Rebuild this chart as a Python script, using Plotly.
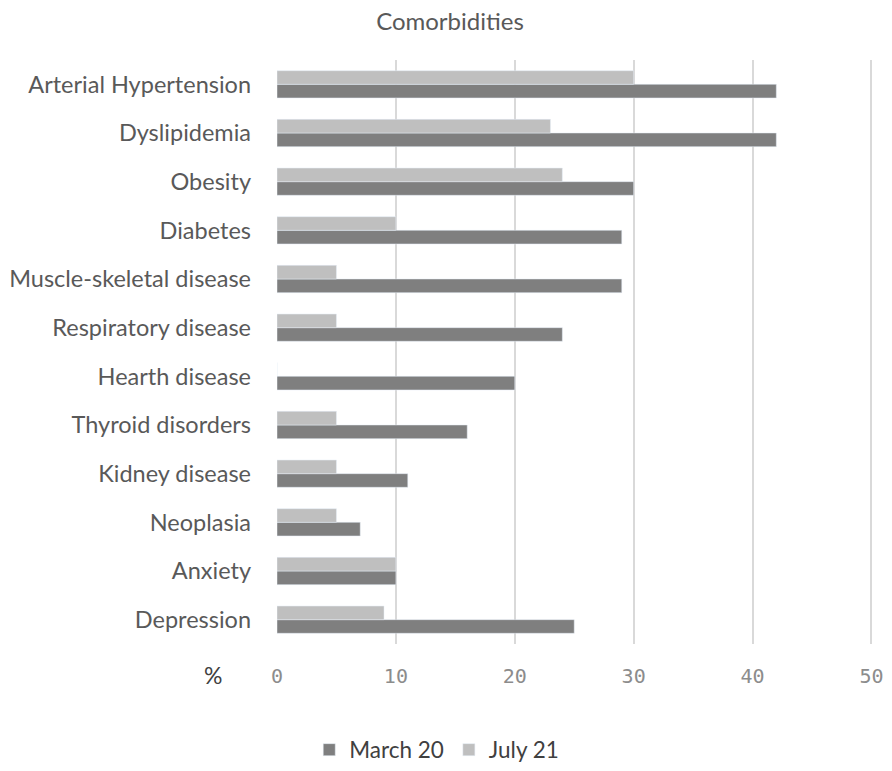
import plotly.graph_objects as go

# categories listed bottom-to-top so the first trace sits lower in each group
categories = ["Depression", "Anxiety", "Neoplasia", "Kidney disease", "Thyroid disorders",
              "Hearth disease", "Respiratory disease", "Muscle-skeletal disease",
              "Diabetes", "Obesity", "Dyslipidemia", "Arterial Hypertension"]
march_20 = [25, 10, 7, 11, 16, 20, 24, 29, 29, 30, 42, 42]
july_21 = [9, 10, 5, 5, 5, 0, 5, 5, 10, 24, 23, 30]
x_ticks = [0, 10, 20, 30, 40, 50]

fig = go.Figure()
fig.add_trace(go.Bar(y=categories, x=march_20, orientation="h", name="March 20",
                     marker_color="#7f7f7f"))
fig.add_trace(go.Bar(y=categories, x=july_21, orientation="h", name="July 21",
                     marker_color="#bfbfbf"))

# page has an 8px body margin, so the figure is a bit smaller than the window
fig.update_layout(
    width=884, height=763,
    paper_bgcolor="white", plot_bgcolor="white",
    barmode="group", bargap=0.44, bargroupgap=0,
    margin=dict(l=269, r=17, t=52, b=127),
    font=dict(family="Lato", color="#595959", size=23.5),
    title=dict(text="Comorbidities", x=0.5, xref="container", xanchor="center",
               y=0.993, yref="container", yanchor="top",
               font=dict(size=24, color="#595959")),
    legend=dict(orientation="h", x=0.485, xref="container", xanchor="center",
                y=0.0275, yref="container", yanchor="middle",
                font=dict(size=22.5, color="#404040"),
                traceorder="normal", itemwidth=30),
    showlegend=True,
)
fig.update_xaxes(range=[0, 50.3], tickvals=x_ticks, showgrid=True, gridcolor="#d9d9d9",
                 gridwidth=1.5, zeroline=False, showline=False, ticks="", automargin=False,
                 tickfont=dict(family="DejaVu Sans Mono", size=20, color="#8c8c8c"),
                 ticklabelstandoff=18)
fig.update_yaxes(showgrid=False, ticks="", showline=False, automargin=False,
                 tickfont=dict(size=23.5, color="#595959"), ticklabelstandoff=25)

fig.add_annotation(text="%", x=-0.126, xref="paper", y=-0.081, yref="paper",
                   showarrow=False, font=dict(size=23, color="#404040"))

fig.write_html("out.html")
